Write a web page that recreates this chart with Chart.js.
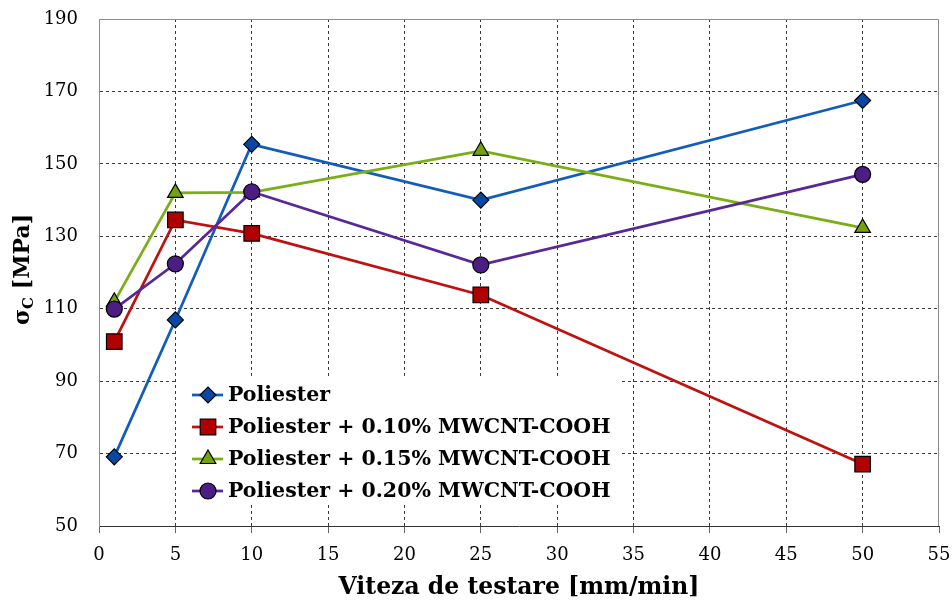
<!DOCTYPE html>
<html>
<head>
<meta charset="utf-8">
<script src="https://cdn.jsdelivr.net/npm/chart.js@4.4.1/dist/chart.umd.min.js"></script>
<style>
html, body { margin: 0; padding: 0; background: #fff; }
#wrap { width: 952px; height: 603px; position: relative; }
</style>
</head>
<body>
<div id="wrap"><canvas id="sigma-chart"></canvas></div>
<script>
// viteza de testare [mm/min] and sigma_C [MPa] per material
const vitezaTestare = [1, 5, 10, 25, 50];
const poliester = [69.1, 106.9, 155.4, 140.0, 167.5];
const mwcnt010 = [100.9, 134.5, 130.8, 113.8, 67.1];
const mwcnt015 = [111.9, 142.0, 142.1, 153.6, 132.3];
const mwcnt020 = [109.9, 122.4, 142.3, 122.1, 147.1];

const seriesNames = [
    'Poliester',
    'Poliester + 0.10% MWCNT-COOH',
    'Poliester + 0.15% MWCNT-COOH',
    'Poliester + 0.20% MWCNT-COOH'
];

const xTicks = [0, 5, 10, 15, 20, 25, 30, 35, 40, 45, 50, 55];
const yTicks = [50, 70, 90, 110, 130, 150, 170, 190];

const SERIF = "'DejaVu Serif', serif";

function toPoints(values) {
    return vitezaTestare.map((x, i) => ({ x: x, y: values[i] }));
}

// frame on top/right of the plot area
const frameLines = {
    id: 'frameLines',
    beforeDatasetsDraw(chart) {
        const { ctx, chartArea: a } = chart;
        ctx.save();
        ctx.strokeStyle = '#8c8c8c';
        ctx.lineWidth = 1;
        ctx.beginPath();
        ctx.moveTo(Math.round(a.left) + 0.5, Math.round(a.top) + 0.5);
        ctx.lineTo(Math.round(a.right) - 0.5, Math.round(a.top) + 0.5);
        ctx.lineTo(Math.round(a.right) - 0.5, Math.round(a.bottom));
        ctx.stroke();
        ctx.restore();
    }
};

// y title with subscript C
const sigmaTitle = {
    id: 'sigmaTitle',
    afterDraw(chart) {
        const { ctx, chartArea: a } = chart;
        const big = "bold 22px " + SERIF;
        const small = "bold 15px " + SERIF;
        ctx.save();
        ctx.translate(23, (a.top + a.bottom) / 2 - 3);
        ctx.rotate(-Math.PI / 2);
        ctx.fillStyle = '#000';
        ctx.textBaseline = 'middle';
        ctx.font = big;
        const wSigma = ctx.measureText('σ').width;
        const wRest = ctx.measureText(' [MPa]').width;
        ctx.font = small;
        const wC = ctx.measureText('C').width;
        let x = -(wSigma + wC + wRest) / 2;
        ctx.textAlign = 'left';
        ctx.font = big;
        ctx.fillText('σ', x, 0);
        x += wSigma;
        ctx.font = small;
        ctx.fillText('C', x, 6);
        x += wC;
        ctx.font = big;
        ctx.fillText(' [MPa]', x, 0);
        ctx.restore();
    }
};

// legend box inside the plot
const innerLegend = {
    id: 'innerLegend',
    afterDatasetsDraw(chart) {
        const { ctx } = chart;
        ctx.save();
        ctx.fillStyle = '#fff';
        ctx.fillRect(178, 379, 442, 125);
        ctx.font = "bold 20.5px " + SERIF;
        ctx.textBaseline = 'middle';
        ctx.textAlign = 'left';
        chart.data.datasets.forEach((ds, i) => {
            const y = 395 + i * 32;
            ctx.strokeStyle = ds.borderColor;
            ctx.lineWidth = ds.borderWidth;
            ctx.beginPath();
            ctx.moveTo(192, y);
            ctx.lineTo(223, y);
            ctx.stroke();
            ctx.fillStyle = ds.pointBackgroundColor;
            ctx.strokeStyle = ds.pointBorderColor;
            ctx.lineWidth = ds.pointBorderWidth;
            Chart.helpers.drawPoint(ctx, {
                pointStyle: ds.pointStyle,
                radius: ds.pointRadius,
                rotation: 0,
                borderWidth: ds.pointBorderWidth
            }, 208, y);
            ctx.fillStyle = '#000';
            ctx.fillText(ds.label, 228, y + 1);
        });
        ctx.restore();
    }
};

const SIGMA_Chart = document.getElementById('sigma-chart');

const sigmaChart = new Chart(SIGMA_Chart, {
    type: 'line',
    data: {
        datasets: [
            {
                label: seriesNames[0],
                data: toPoints(poliester),
                borderColor: 'rgb(18, 92, 190)',
                borderWidth: 2.75,
                pointStyle: 'rectRot',
                pointRadius: 8,
                pointBackgroundColor: 'rgb(8, 72, 165)',
                pointBorderColor: '#000',
                pointBorderWidth: 1.2,
                order: 4
            },
            {
                label: seriesNames[1],
                data: toPoints(mwcnt010),
                borderColor: 'rgb(192, 16, 16)',
                borderWidth: 2.75,
                pointStyle: 'rect',
                pointRadius: 11,
                pointBackgroundColor: 'rgb(176, 0, 0)',
                pointBorderColor: '#000',
                pointBorderWidth: 1.2,
                order: 3
            },
            {
                label: seriesNames[2],
                data: toPoints(mwcnt015),
                borderColor: 'rgb(122, 174, 22)',
                borderWidth: 2.75,
                pointStyle: 'triangle',
                pointRadius: 9,
                pointBackgroundColor: 'rgb(116, 162, 10)',
                pointBorderColor: '#000',
                pointBorderWidth: 1.2,
                order: 2
            },
            {
                label: seriesNames[3],
                data: toPoints(mwcnt020),
                borderColor: 'rgb(88, 40, 150)',
                borderWidth: 2.75,
                pointStyle: 'circle',
                pointRadius: 8,
                pointBackgroundColor: 'rgb(76, 30, 132)',
                pointBorderColor: '#000',
                pointBorderWidth: 1.2,
                order: 1
            }
        ]
    },
    options: {
        responsive: true,
        maintainAspectRatio: false,
        animation: false,
        devicePixelRatio: 1,
        layout: { padding: { left: 0, right: 13, top: 19, bottom: 0 } },
        plugins: {
            legend: { display: false },
            tooltip: { enabled: false }
        },
        scales: {
            x: {
                type: 'linear',
                min: xTicks[0],
                max: xTicks[xTicks.length - 1],
                // fixed axis band; edge padding comes from layout
                afterFit: s => { s.height = 77; s.paddingRight = 0; },
                ticks: {
                    stepSize: xTicks[1] - xTicks[0],
                    color: '#000',
                    font: { family: SERIF, size: 18 },
                    padding: 12,
                    maxRotation: 0
                },
                grid: {
                    color: c => (c.tick && (c.tick.value === xTicks[0] || c.tick.value === xTicks[xTicks.length - 1])) ? 'rgba(0,0,0,0)' : '#3a3a3a',
                    tickColor: '#666',
                    tickLength: 7,
                    tickBorderDash: [],
                    lineWidth: 1
                },
                border: { color: '#333', width: 1, dash: [3, 3] },
                title: {
                    display: true,
                    text: 'Viteza de testare [mm/min]',
                    color: '#000',
                    font: { family: SERIF, size: 23.5, weight: 'bold' },
                    padding: { top: 0, bottom: 1 }
                }
            },
            y: {
                min: yTicks[0],
                max: yTicks[yTicks.length - 1],
                afterFit: s => { s.width = 99; s.paddingTop = 0; },
                ticks: {
                    stepSize: yTicks[1] - yTicks[0],
                    color: '#000',
                    font: { family: SERIF, size: 18 },
                    padding: 21
                },
                grid: {
                    color: c => (c.tick && (c.tick.value === yTicks[0] || c.tick.value === yTicks[yTicks.length - 1])) ? 'rgba(0,0,0,0)' : '#3a3a3a',
                    drawTicks: false,
                    lineWidth: 1
                },
                border: { color: '#8c8c8c', width: 1, dash: [3, 3] },
                title: { display: false }
            }
        }
    },
    plugins: [frameLines, innerLegend, sigmaTitle]
});
</script>
</body>
</html>
